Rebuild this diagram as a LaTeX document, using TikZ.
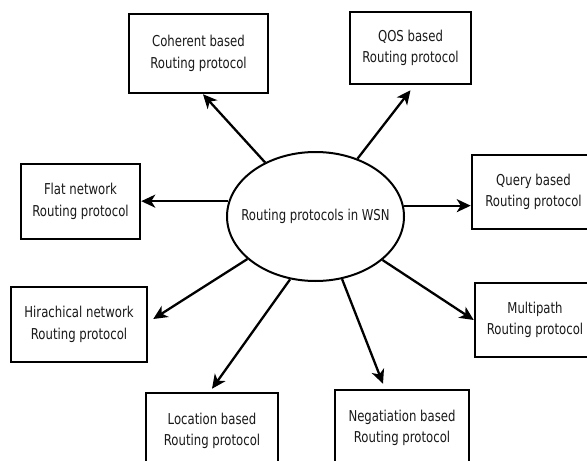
\documentclass[tikz,border=0pt]{standalone}
\usepackage{fontspec}
\setmainfont{DejaVu Sans}[FakeStretch=0.78]
\usetikzlibrary{shapes.geometric,arrows.meta}
\begin{document}
\begin{tikzpicture}[x=1pt,y=-1pt,
  box/.style={draw,line width=2.5pt,inner sep=0pt,align=center,
    font=\fontsize{15}{21.5}\selectfont,text=black!90},
  hub/.style={draw,ellipse,line width=2pt,inner sep=0pt,
    minimum width=177pt,minimum height=129pt,
    font=\fontsize{15}{21.5}\selectfont,text=black!90},
  arr/.style={line width=2.3pt,-{Stealth[length=14pt,width=13pt,inset=4pt]}}]
\useasboundingbox (0,0) rectangle (587,461);
\clip (0,0) rectangle (587,461);
\node[hub] (c) at (315.5,216.5) {\makebox[0pt]{Routing protocols in WSN}};
\node[box,minimum width=139pt,minimum height=79pt] (co) at (198.5,53.5) {Coherent based\\Routing protocol};
\node[box,minimum width=121pt,minimum height=72pt] (qo) at (410.5,48) {QOS based\\Routing protocol};
\node[box,minimum width=119pt,minimum height=75pt] (fl) at (80.5,201.5) {Flat network\\Routing protocol};
\node[box,minimum width=123pt,minimum height=74pt] (qu) at (533.5,192) {Query based\\Routing protocol};
\node[box,minimum width=136pt,minimum height=75pt] (hi) at (79,324.5) {Hirachical network\\Routing protocol};
\node[box,minimum width=120pt,minimum height=74pt] (mu) at (535,320) {Multipath\\Routing protocol};
\node[box,minimum width=132pt,minimum height=76pt] (lo) at (212,431) {Location based\\Routing protocol};
\node[box,minimum width=134pt,minimum height=76pt] (ne) at (402,428) {Negatiation based\\Routing protocol};
\draw[arr] (c.133.4) -- ([xshift=4.5pt]co.south);
\draw[arr] (c.170.7) -- (c.170.7 -| fl.east);
\draw[arr] (c.54) -- ([yshift=-5pt]qo.south);
\draw[arr] (c.7.4) -- (c.7.4 -| qu.west);
\draw[arr] (c.212.4) -- ([xshift=5pt,yshift=5.5pt]hi.east);
\draw[arr] (c.248.1) -- ([yshift=3pt]lo.north);
\draw[arr] (c.327) -- (mu.west);
\draw[arr] (c.293.3) -- ([xshift=-19pt,yshift=5pt]ne.north);
\end{tikzpicture}
\end{document}
